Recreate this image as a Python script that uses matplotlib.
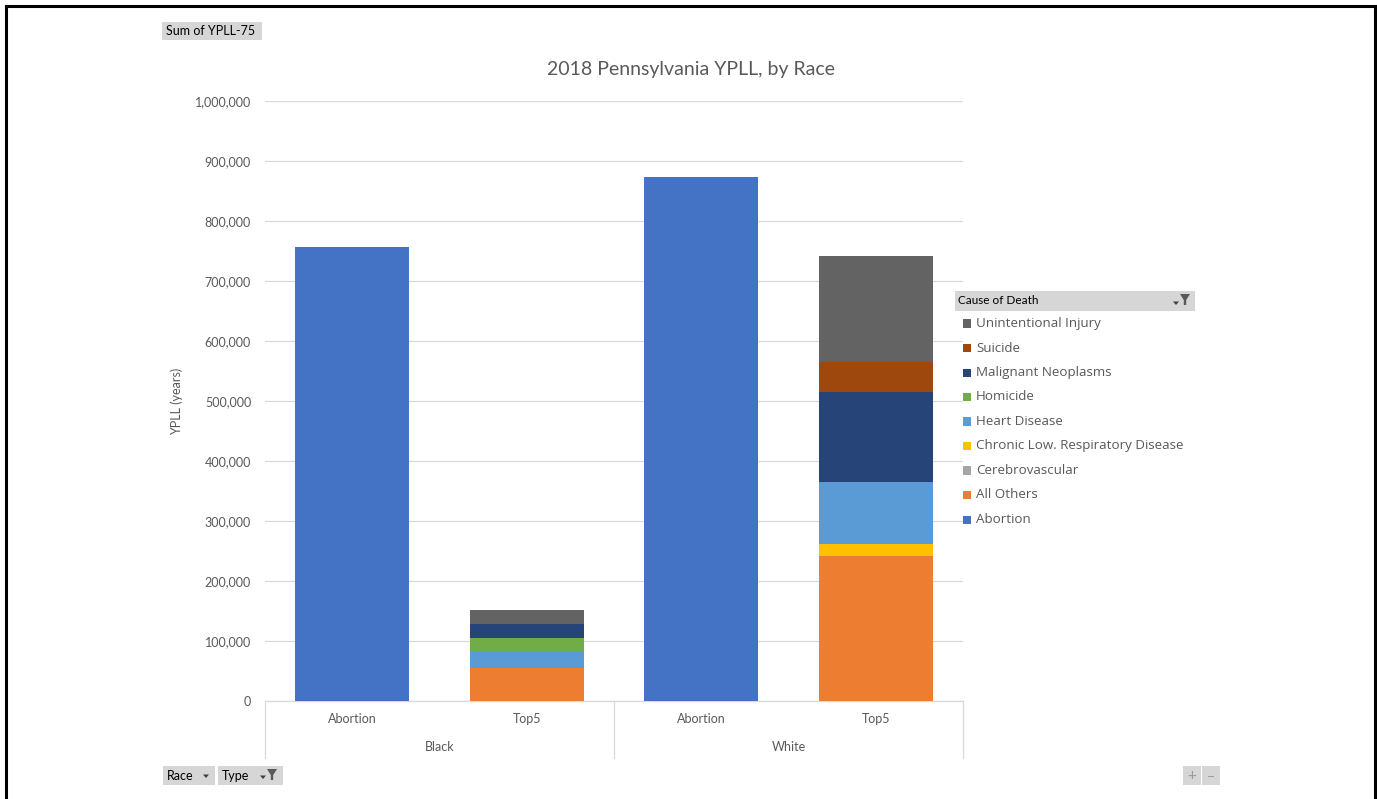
import matplotlib
matplotlib.use("Agg")
import matplotlib.pyplot as plt
from matplotlib.patches import Rectangle, Polygon
from matplotlib.lines import Line2D
from matplotlib.ticker import FuncFormatter
import matplotlib.transforms as mtransforms

plt.rcParams['font.family'] = ['Lato', 'DejaVu Sans']

# ---- data ----
bar_labels = ["Abortion", "Top5", "Abortion", "Top5"]
races = ["Black", "White"]
causes = ["Abortion", "All Others", "Cerebrovascular", "Chronic Low. Respiratory Disease",
          "Heart Disease", "Homicide", "Malignant Neoplasms", "Suicide", "Unintentional Injury"]
abortion = [757000, 0, 873000, 0]
all_others = [0, 55500, 0, 241700]
cerebrovascular = [0, 0, 0, 0]
chronic_resp = [0, 0, 0, 19400]
heart = [0, 28400, 0, 103300]
homicide = [0, 20600, 0, 0]
malignant = [0, 23300, 0, 151100]
suicide = [0, 0, 0, 50000]
unintentional = [0, 23900, 0, 176500]
series = [abortion, all_others, cerebrovascular, chronic_resp, heart, homicide,
          malignant, suicide, unintentional]
colors = ["#4472C4", "#ED7D31", "#A5A5A5", "#FFC000", "#5B9BD5", "#70AD47",
          "#264478", "#9E480E", "#636363"]
yticks = list(range(0, 1000001, 100000))

W, H = 1377, 799
fig = plt.figure(figsize=(W / 100, H / 100), dpi=100)
txt = "#595959"

def fx(px):
    return px / W

def fy(py):
    return 1 - py / H

ax = fig.add_axes([fx(265), fy(701), fx(963) - fx(265), fy(101) - fy(701)])
x = list(range(len(bar_labels)))
bottom = [0] * len(x)
for vals, col, name in zip(series, colors, causes):
    ax.bar(x, vals, width=0.655, bottom=bottom, color=col, label=name, zorder=3)
    bottom = [b + v for b, v in zip(bottom, vals)]

ax.set_xlim(-0.5, len(x) - 0.5)
ax.set_ylim(0, 1000000)
ax.set_yticks(yticks)
ax.yaxis.set_major_formatter(FuncFormatter(lambda v, p: f"{int(v):,}"))
ax.grid(axis="y", color="#D9D9D9", linewidth=0.9, zorder=0)
for s in ax.spines.values():
    s.set_visible(False)
ax.tick_params(axis="y", length=0, pad=10, labelsize=9, labelcolor=txt)
ax.set_xticks(x)
ax.set_xticklabels(bar_labels)
ax.tick_params(axis="x", length=0, pad=8.5, labelsize=9, labelcolor=txt)

trans = mtransforms.blended_transform_factory(ax.transData, ax.transAxes)
ax.plot([-0.5, 3.5], [0, 0], transform=trans, color="#D9D9D9", lw=0.9, clip_on=False)
for xs in [-0.5, 1.5, 3.5]:
    ax.plot([xs, xs], [0, -(758 - 701) / 600], transform=trans, color="#D9D9D9",
            lw=0.9, clip_on=False)
for i, r in enumerate(races):
    ax.text(2 * i + 0.5, -(747 - 701) / 600, r, transform=trans, ha="center",
            va="center", fontsize=9, color=txt)

ax.set_ylabel("YPLL (years)", fontsize=9, color=txt)
ax.yaxis.set_label_coords(fx(183 - 265) / (fx(963) - fx(265)), 0.5)

fig.text(fx(691), fy(70), "2018 Pennsylvania YPLL, by Race", ha="center", va="center",
         fontsize=14, color=txt)

# ---- legend (pivot style) ----
fig.patches.append(Rectangle((fx(955), fy(311)), fx(240), fy(291) - fy(311),
                             transform=fig.transFigure, facecolor="#D6D6D6",
                             edgecolor="none"))
fig.text(fx(958), fy(301), "Cause of Death", ha="left", va="center", fontsize=8.5,
         color="black")

def funnel(xc, yc, s=1.0):
    pts = [(xc - 5 * s, yc - 6 * s), (xc + 5 * s, yc - 6 * s), (xc + 1.2 * s, yc),
           (xc + 1.2 * s, yc + 5 * s), (xc - 1.2 * s, yc + 5 * s), (xc - 1.2 * s, yc)]
    fig.patches.append(Polygon([(fx(a), fy(b)) for a, b in pts], closed=True,
                               transform=fig.transFigure, facecolor="#595959",
                               edgecolor="none"))

def dropdown(xc, yc):
    pts = [(xc - 3, yc - 1.5), (xc + 3, yc - 1.5), (xc, yc + 2)]
    fig.patches.append(Polygon([(fx(a), fy(b)) for a, b in pts], closed=True,
                               transform=fig.transFigure, facecolor="#404040",
                               edgecolor="none"))

dropdown(1176, 303)
funnel(1185, 300)

y0 = 323.5
for k, (name, col) in enumerate(zip(causes[::-1], colors[::-1])):
    yy = y0 + k * 24.5
    fig.patches.append(Rectangle((fx(963), fy(yy + 4)), fx(8), fy(yy - 4) - fy(yy + 4),
                                 transform=fig.transFigure, facecolor=col,
                                 edgecolor="none"))
    fig.text(fx(976), fy(yy), name, ha="left", va="center", fontsize=9.6, color=txt,
             family=["Open Sans", "DejaVu Sans"])

# ---- buttons ----
def button(x0, y0_, w, h, label=None):
    fig.patches.append(Rectangle((fx(x0), fy(y0_ + h)), fx(w), fy(y0_) - fy(y0_ + h),
                                 transform=fig.transFigure, facecolor="#D6D6D6",
                                 edgecolor="none"))
    if label:
        fig.text(fx(x0 + 4), fy(y0_ + h / 2), label, ha="left", va="center",
                 fontsize=9, color="black")

button(162, 22, 100, 18, "Sum of YPLL-75")
button(163, 766, 52, 19, "Race")
dropdown(206, 776)
button(218, 766, 65, 19, "Type")
dropdown(263, 777)
funnel(272, 775)
button(1183, 766, 18, 19)
button(1202, 766, 18, 19)
fig.text(fx(1192), fy(776), "+", ha="center", va="center", fontsize=11, color="#9A9A9A")
fig.text(fx(1211), fy(776), "\u2212", ha="center", va="center", fontsize=10, color="#9A9A9A")

# ---- outer frame ----
for (xa, ya, xb, yb) in [(6, 6, 1375, 6), (6, 6, 6, 799), (1375, 6, 1375, 799)]:
    fig.add_artist(Line2D([fx(xa), fx(xb)], [fy(ya), fy(yb)], transform=fig.transFigure,
                          color="black", lw=2.2))

fig.savefig("out.png", dpi=100)
